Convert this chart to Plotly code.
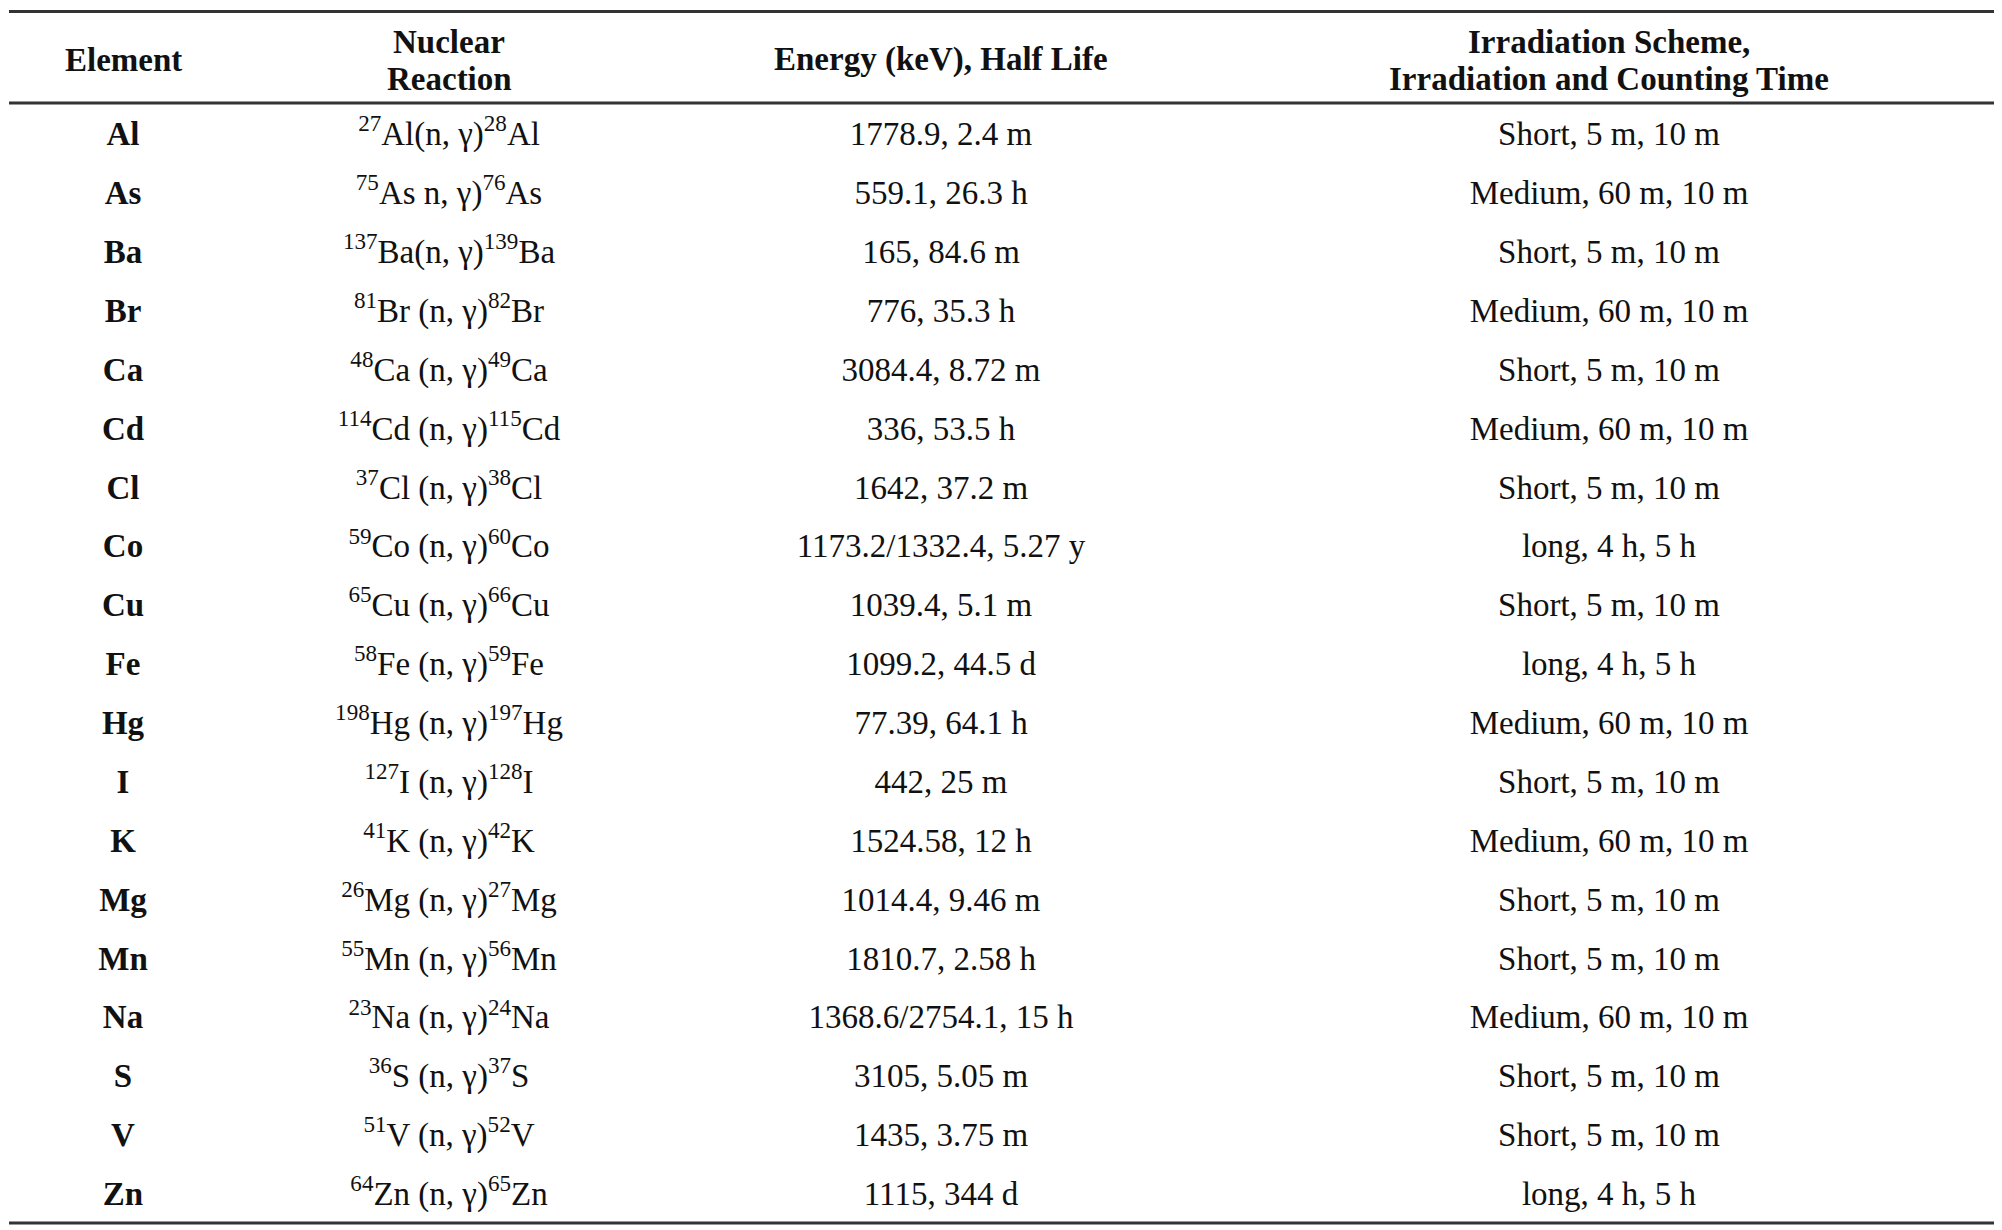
import plotly.graph_objects as go

# table content
elements = ["Al", "As", "Ba", "Br", "Ca", "Cd", "Cl", "Co", "Cu", "Fe",
            "Hg", "I", "K", "Mg", "Mn", "Na", "S", "V", "Zn"]
target_mass = ["27", "75", "137", "81", "48", "114", "37", "59", "65", "58",
               "198", "127", "41", "26", "55", "23", "36", "51", "64"]
product_mass = ["28", "76", "139", "82", "49", "115", "38", "60", "66", "59",
                "197", "128", "42", "27", "56", "24", "37", "52", "65"]
channel = ["(n, γ)", " n, γ)", "(n, γ)"] + [" (n, γ)"] * 16
energy_kev = ["1778.9", "559.1", "165", "776", "3084.4", "336", "1642",
              "1173.2/1332.4", "1039.4", "1099.2", "77.39", "442", "1524.58",
              "1014.4", "1810.7", "1368.6/2754.1", "3105", "1435", "1115"]
half_life = ["2.4 m", "26.3 h", "84.6 m", "35.3 h", "8.72 m", "53.5 h", "37.2 m",
             "5.27 y", "5.1 m", "44.5 d", "64.1 h", "25 m", "12 h", "9.46 m",
             "2.58 h", "15 h", "5.05 m", "3.75 m", "344 d"]
scheme = ["Short", "Medium", "Short", "Medium", "Short", "Medium", "Short", "long",
          "Short", "long", "Medium", "Short", "Medium", "Short", "Short", "Medium",
          "Short", "Short", "long"]
irr_time = {"Short": "5 m", "Medium": "60 m", "long": "4 h"}
count_time = {"Short": "10 m", "Medium": "10 m", "long": "5 h"}

# header lines, one list per column
headers = [["Element"], ["Nuclear", "Reaction"],
           ["Energy (keV), Half Life"],
           ["Irradiation Scheme,", "Irradiation and Counting Time"]]

# layout (pixels, page body adds 8px offset)
W, H = 1994, 1222
col_x = [115, 441, 933, 1601]
rule_x = (1, 1987)
rule_y = [3.5, 95, 1215]
row0_y, row_h = 129, 58.88
header_one = [52]
header_two = [34, 71]
FONT = "Liberation Serif"
FS = 33

reactions = ["<sup>%s</sup>%s%s<sup>%s</sup>%s" % (t, e, c, p, e)
             for t, e, c, p in zip(target_mass, elements, channel, product_mass)]
energies = ["%s, %s" % (en, hl) for en, hl in zip(energy_kev, half_life)]
schemes = ["%s, %s, %s" % (s, irr_time[s], count_time[s]) for s in scheme]
columns = [["<b>%s</b>" % e for e in elements], reactions, energies, schemes]

fig = go.Figure()
for cx, texts in zip(col_x, columns):
    fig.add_trace(go.Scatter(
        x=[cx] * len(elements), y=elements, text=texts,
        mode="text", textposition="middle center",
        textfont=dict(family=FONT, size=FS, color="#111111"),
        hoverinfo="skip", showlegend=False))

for cx, lines in zip(col_x, headers):
    ys = header_one if len(lines) == 1 else header_two
    for line, hy in zip(lines, ys):
        fig.add_annotation(x=cx, y=1 - hy / H, xref="x", yref="paper",
                           text="<b>%s</b>" % line, showarrow=False,
                           xanchor="center", yanchor="middle",
                           font=dict(family=FONT, size=FS, color="#111111"))

for ry in rule_y:
    fig.add_shape(type="line", xref="x", yref="paper",
                  x0=rule_x[0], x1=rule_x[1], y0=1 - ry / H, y1=1 - ry / H,
                  line=dict(color="#333333", width=3))

r_top = -row0_y / row_h
r_bot = r_top + H / row_h

fig.update_layout(
    width=W, height=H,
    margin=dict(l=0, r=0, t=0, b=0),
    paper_bgcolor="white", plot_bgcolor="white",
    xaxis=dict(range=[0, W], visible=False, fixedrange=True),
    yaxis=dict(type="category", categoryorder="array", categoryarray=elements,
               range=[r_bot, r_top], visible=False, fixedrange=True),
)

fig.write_html("out.html", config={"displayModeBar": False})
